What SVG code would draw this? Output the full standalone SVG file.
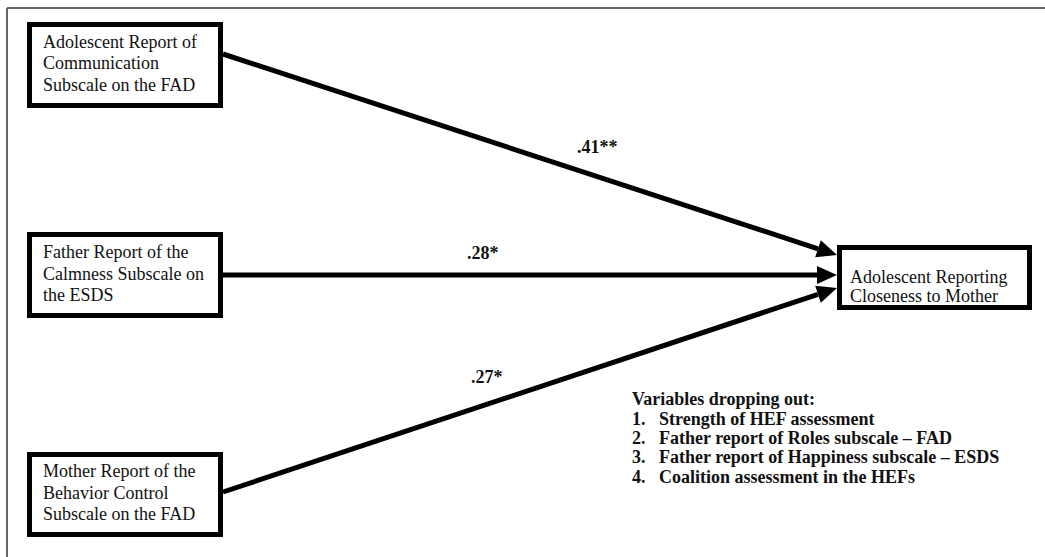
<svg xmlns="http://www.w3.org/2000/svg" width="1045" height="557" viewBox="0 0 1045 557">
<style>
.box{fill:#fff;stroke:#000;stroke-width:5}
.t{font-family:"Liberation Serif","Times New Roman",serif;font-size:18px;fill:#111}
.b{font-family:"Liberation Serif","Times New Roman",serif;font-size:18px;font-weight:bold;fill:#111}
.edge{stroke:#000;stroke-width:5;fill:none;marker-end:url(#ah)}
</style>
<defs>
<marker id="ah" markerUnits="userSpaceOnUse" markerWidth="21" markerHeight="18" refX="0" refY="9" orient="auto" overflow="visible">
<path d="M0,0 L20,9 L0,18 z" fill="#000"/>
</marker>
</defs>
<rect width="1045" height="557" fill="#fff"/>
<g id="frame" stroke="#666" stroke-width="2" fill="none">
<line x1="7" y1="8" x2="1045" y2="8"/>
<line x1="7" y1="8" x2="7" y2="557"/>
</g>
<g id="connectors">
<line class="edge" x1="223" y1="54" x2="818" y2="248.8"/>
<line class="edge" x1="223" y1="275" x2="817" y2="275"/>
<line class="edge" x1="223" y1="492" x2="818" y2="294.3"/>
<text class="b" x="577" y="153">.41**</text>
<text class="b" x="467" y="259">.28*</text>
<text class="b" x="471" y="383">.27*</text>
</g>
<g id="n1">
<rect class="box" x="29.5" y="24.5" width="191" height="81"/>
<text class="t" x="43" y="48">Adolescent Report of</text>
<text class="t" x="43" y="69">Communication</text>
<text class="t" x="43" y="91">Subscale on the FAD</text>
</g>
<g id="n2">
<rect class="box" x="29.5" y="234.5" width="191" height="81"/>
<text class="t" x="43" y="258">Father Report of the</text>
<text class="t" x="43" y="280">Calmness Subscale on</text>
<text class="t" x="43" y="301">the ESDS</text>
</g>
<g id="n3">
<rect class="box" x="29.5" y="454.5" width="191" height="80"/>
<text class="t" x="43" y="477">Mother Report of the</text>
<text class="t" x="43" y="499">Behavior Control</text>
<text class="t" x="43" y="520">Subscale on the FAD</text>
</g>
<g id="n4">
<rect class="box" x="839.5" y="247.5" width="190" height="60"/>
<text class="t" x="850" y="283">Adolescent Reporting</text>
<text class="t" x="850" y="302">Closeness to Mother</text>
</g>
<g id="legend">
<text class="b" x="632" y="405">Variables dropping out:</text>
<text class="b" x="632" y="425">1.</text><text class="b" x="659" y="425">Strength of HEF assessment</text>
<text class="b" x="632" y="444">2.</text><text class="b" x="659" y="444">Father report of Roles subscale – FAD</text>
<text class="b" x="632" y="463">3.</text><text class="b" x="659" y="463">Father report of Happiness subscale – ESDS</text>
<text class="b" x="632" y="483">4.</text><text class="b" x="659" y="483">Coalition assessment in the HEFs</text>
</g>
</svg>
